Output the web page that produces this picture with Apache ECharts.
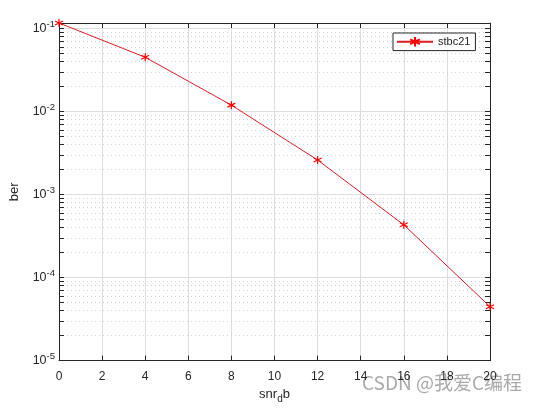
<!DOCTYPE html>
<html>
<head>
<meta charset="utf-8">
<script src="https://cdn.jsdelivr.net/npm/echarts@6/dist/echarts.min.js"></script>
<style>html,body{margin:0;padding:0;background:#fff}#c{width:535px;height:409px}</style>
</head>
<body>
<div id="c"></div>
<script>
// ---- data ----
const snrValues = [0, 4, 8, 12, 16, 20];
const berValues = [0.116, 0.0449, 0.0119, 0.0026, 0.000431, 0.0000446];
const seriesName = 'stbc21';
const xMin = 0, xMax = 20, xInterval = 2;
const yMin = 1e-5, yMax = 0.116;
const minorDecades = [-5, -4, -3, -2];
const minorMultipliers = [2, 3, 4, 5, 6, 7, 8, 9];

const FONT = '"Liberation Sans", Arial, Helvetica, sans-serif';
const AX = '#262626';

const minorVals = [];
minorDecades.forEach(d => minorMultipliers.forEach(m => {
  const v = m * Math.pow(10, d);
  if (v < yMax) minorVals.push(v);
}));

const chart = echarts.init(document.getElementById('c'), null, {renderer: 'canvas'});

function expLabel(v) {
  const e = Math.log10(v);
  const r = Math.round(e);
  if (Math.abs(e - r) > 1e-6) return '';
  return '{b|10}{s|' + r + '}';
}

const minorGridLines = minorVals.map(v => ({coords: [[xMin, v], [xMax, v]]}));
const tickLen = 0.23;
const minorTickLines = [];
minorVals.forEach(v => {
  minorTickLines.push({coords: [[xMin, v], [xMin + tickLen, v]]});
  minorTickLines.push({coords: [[xMax - tickLen, v], [xMax, v]]});
});

chart.setOption({
  animation: false,
  backgroundColor: '#fff',
  textStyle: {fontFamily: FONT},
  grid: {left: 56, right: 45, top: 23, bottom: 48, containLabel: false},
  legend: {
    data: [seriesName],
    left: 393, top: 33,
    orient: 'horizontal',
    padding: [3, 5, 3, 3],
    itemWidth: 36, itemHeight: 12, itemGap: 4,
    borderColor: AX, borderWidth: 1, borderRadius: 0,
    backgroundColor: '#fff',
    textStyle: {fontFamily: FONT, fontSize: 11, color: AX, padding: [0, 0, 0, 0]}
  },
  xAxis: [{
    type: 'value', min: xMin, max: xMax, interval: xInterval,
    name: 'snr{sub|d}b', nameLocation: 'middle', nameGap: 22,
    nameTextStyle: {fontFamily: FONT, fontSize: 13, color: AX,
      rich: {sub: {fontSize: 10, verticalAlign: 'bottom', padding: [10, 0, 0, 0], fontFamily: FONT, color: AX}}},
    axisLine: {show: true, onZero: false, lineStyle: {color: AX, width: 1}},
    axisTick: {show: true, inside: true, length: 5, lineStyle: {color: AX}},
    axisLabel: {fontFamily: FONT, fontSize: 12, color: AX, margin: 10},
    splitLine: {show: true, lineStyle: {color: '#dedede', width: 1}}
  }, {
    type: 'value', position: 'top', min: xMin, max: xMax, interval: xInterval,
    axisLine: {show: true, onZero: false, lineStyle: {color: AX, width: 1}},
    axisTick: {show: true, inside: true, length: 5, lineStyle: {color: AX}},
    axisLabel: {show: false}, splitLine: {show: false}
  }],
  yAxis: [{
    type: 'log', logBase: 10, min: yMin, max: yMax,
    name: 'ber', nameLocation: 'middle', nameGap: 38, nameRotate: 90,
    nameTextStyle: {fontFamily: FONT, fontSize: 13, color: AX},
    axisLine: {show: true, onZero: false, lineStyle: {color: AX, width: 1}},
    axisTick: {show: true, inside: true, length: 5, lineStyle: {color: AX}},
    axisLabel: {
      fontFamily: FONT, color: AX, margin: 4,
      formatter: expLabel,
      rich: {
        b: {fontSize: 12.5, fontFamily: FONT, color: AX},
        s: {fontSize: 9.5, fontFamily: FONT, color: AX, verticalAlign: 'top', padding: [0, 0, 8, 0]}
      }
    },
    splitLine: {show: true, lineStyle: {color: '#dedede', width: 1}}
  }, {
    type: 'log', logBase: 10, min: yMin, max: yMax, position: 'right',
    axisLine: {show: true, onZero: false, lineStyle: {color: AX, width: 1}},
    axisTick: {show: true, inside: true, length: 5, lineStyle: {color: AX}},
    axisLabel: {show: false}, splitLine: {show: false}
  }],
  series: [{
    name: 'minorGrid', type: 'lines', coordinateSystem: 'cartesian2d',
    xAxisIndex: 0, yAxisIndex: 0, silent: true, z: 1,
    lineStyle: {color: '#d4d4d4', width: 1, type: [1, 3], opacity: 1},
    data: minorGridLines
  }, {
    name: 'minorTicks', type: 'lines', coordinateSystem: 'cartesian2d',
    xAxisIndex: 0, yAxisIndex: 0, silent: true, z: 3,
    lineStyle: {color: AX, width: 1, type: 'solid', opacity: 1},
    data: minorTickLines
  }, {
    name: seriesName, type: 'line', xAxisIndex: 0, yAxisIndex: 0,
    data: snrValues.map((x, i) => [x, berValues[i]]),
    lineStyle: {color: '#dc1e26', width: 1},
    itemStyle: {color: 'rgba(0,0,0,0)', borderColor: '#ff0000', borderWidth: 1.2},
    symbol: 'path://M0,-5L0,5M-4.33,-2.5L4.33,2.5M-4.33,2.5L4.33,-2.5',
    symbolSize: 8,
    showSymbol: true, clip: false, z: 5
  }],
  graphic: [{
    type: 'text', left: 362, top: 373,
    style: {text: 'CSDN @我爱C编程', font: '19px "Noto Sans CJK SC", sans-serif', fill: '#aaaaaa'}
  }]
});
</script>
</body>
</html>
